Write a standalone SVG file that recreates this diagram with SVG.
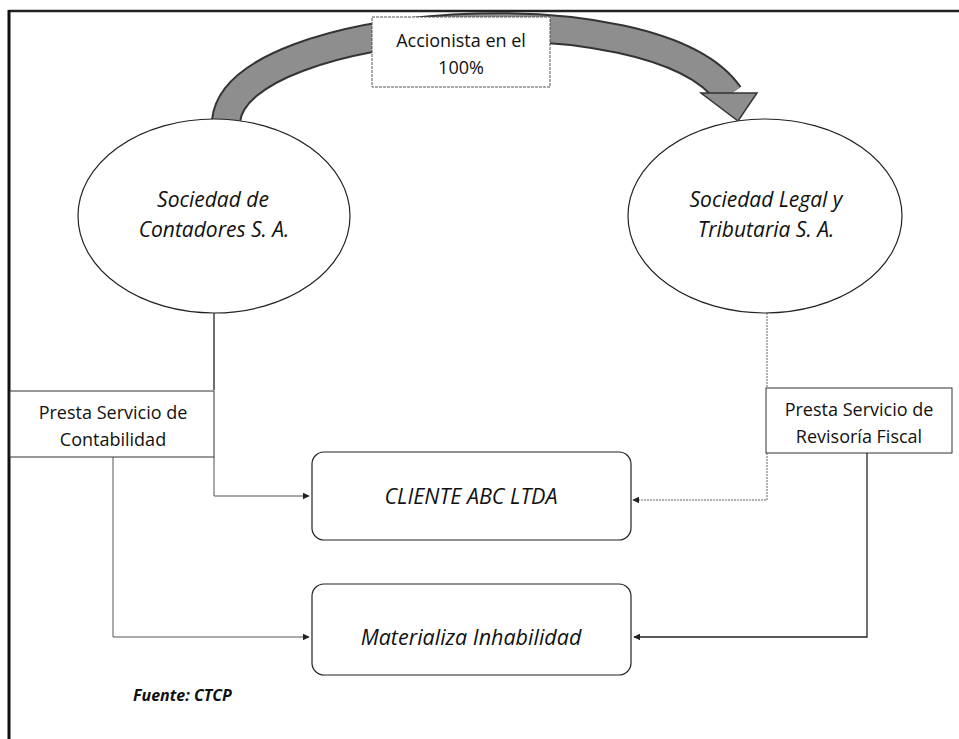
<svg xmlns="http://www.w3.org/2000/svg" width="959" height="739" viewBox="0 0 959 739">
<defs>
<marker id="ah" viewBox="0 0 10 10" refX="9" refY="5" markerWidth="7" markerHeight="7" orient="auto" markerUnits="userSpaceOnUse">
<path d="M0,0 L10,5 L0,10 z" fill="#222"/>
</marker>
</defs>
<style>
.t{font-family:"Open Sans","Liberation Sans",sans-serif;fill:#111;text-anchor:middle}
.it{font-style:italic}
.node{fill:#fff;stroke:#222;stroke-width:1.2}
.box{fill:#fff;stroke:#333;stroke-width:1}
.c{fill:none;stroke:#555;stroke-width:1}
.cd{fill:none;stroke:#666;stroke-width:1;stroke-dasharray:2 1}
.cs{fill:none;stroke:#222;stroke-width:1.3}
</style>
<rect width="959" height="739" fill="#fff"/>
<g id="frame">
<line x1="8.5" y1="11" x2="959" y2="11" stroke="#222" stroke-width="2.5"/>
<line x1="9" y1="10" x2="9" y2="739" stroke="#111" stroke-width="3"/>
</g>
<g id="arrow-accionista">
<path d="M226,121 C236,16 655,-12 729,95" fill="none" stroke="#333" stroke-width="30"/>
<path d="M226,121 C236,16 655,-12 729,95" fill="none" stroke="#8e8e8e" stroke-width="26"/>
<polygon points="701,93 757,93 738,121" fill="#8e8e8e" stroke="#333" stroke-width="1.5"/>
</g>
<g id="label-accionista">
<rect x="372" y="17" width="178" height="70" fill="#fff" stroke="#555" stroke-width="1" stroke-dasharray="3 1"/>
<text class="t" x="461" y="47" font-size="18">Accionista en el</text>
<text class="t" x="461" y="74" font-size="18">100%</text>
</g>
<g id="connectors">
<path class="cs" d="M214,313 V390"/>
<path class="c" d="M214,457 V496 H309" marker-end="url(#ah)"/>
<path class="c" d="M113,457 V637 H309" marker-end="url(#ah)"/>
<path class="cd" d="M767,313 V388"/>
<path class="cd" d="M767,453 V500 H633" marker-end="url(#ah)"/>
<path class="cs" d="M867,453 V637 H634" marker-end="url(#ah)"/>
</g>
<g id="node-contadores">
<ellipse class="node" cx="214" cy="216" rx="136" ry="97"/>
<text class="t it" x="213" y="207" font-size="21">Sociedad de</text>
<text class="t it" x="214" y="237" font-size="21">Contadores S. A.</text>
</g>
<g id="node-legal">
<ellipse class="node" cx="765" cy="216" rx="137" ry="97"/>
<text class="t it" x="766" y="207" font-size="21">Sociedad Legal y</text>
<text class="t it" x="766" y="237" font-size="21">Tributaria S. A.</text>
</g>
<g id="node-contabilidad">
<rect class="box" x="10" y="391" width="204" height="66"/>
<text class="t" x="113" y="419" font-size="18">Presta Servicio de</text>
<text class="t" x="113" y="446" font-size="18">Contabilidad</text>
</g>
<g id="node-revisoria">
<rect class="box" x="766" y="388" width="186" height="65"/>
<text class="t" x="859" y="416" font-size="18">Presta Servicio de</text>
<text class="t" x="859" y="443" font-size="18">Revisoría Fiscal</text>
</g>
<g id="node-cliente">
<rect class="node" x="312" y="452" width="319" height="88" rx="12"/>
<text class="t it" x="471" y="504" font-size="21.5">CLIENTE ABC LTDA</text>
</g>
<g id="node-materializa">
<rect class="node" x="312" y="584" width="319" height="91" rx="12"/>
<text class="t it" x="471" y="645" font-size="21.5">Materializa Inhabilidad</text>
</g>
<g id="source">
<text x="133" y="701" font-family="Open Sans, Liberation Sans, sans-serif" font-size="16" font-style="italic" font-weight="bold" fill="#111">Fuente: CTCP</text>
</g>
</svg>
